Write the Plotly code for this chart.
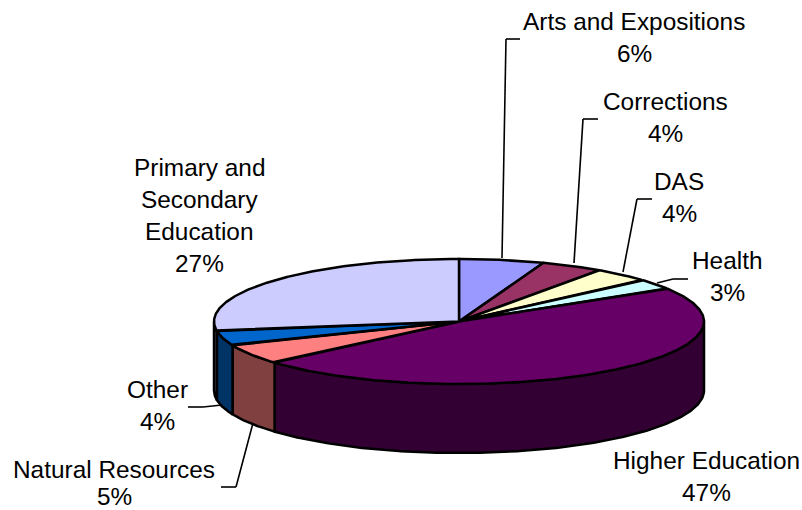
import math
import plotly.graph_objects as go

categories = ["Arts and Expositions", "Corrections", "DAS", "Health", "Higher Education",
              "Natural Resources", "Other", "Primary and Secondary Education"]
values = [5.6, 4.1, 3.7, 2.7, 47.4, 5.2, 3.8, 27.4]
top_colors = ["#9999FF", "#993366", "#FFFFCC", "#CCFFFF", "#660066", "#FF8080", "#0066CC", "#CCCCFF"]
side_colors = ["#4D4D80", "#4D1A33", "#808066", "#668080", "#330033", "#804040", "#003366", "#666680"]

# label layout: wrapped name lines, centre x, first line y, line step
label_lines = [["Arts and Expositions"], ["Corrections"], ["DAS"], ["Health"], ["Higher Education"],
               ["Natural Resources"], ["Other"], ["Primary and", "Secondary", "Education"]]
label_x = [634, 665, 679, 727, 706, 114, 157, 199]
label_y = [21, 101, 181, 260, 460, 469, 389, 167]
label_step = [32, 32, 32, 32, 32, 27, 32, 32]
leaders = [[(502, 258), (506, 39), (520, 39)],
           [(574, 263), (583, 119), (598, 119)],
           [(623, 272), (637, 199), (652, 199)],
           [(657, 283), (673, 279), (688, 279)],
           [],
           [(253, 423), (236, 487), (221, 487)],
           [(222, 405), (203, 407), (188, 407)],
           []]

CX, CY, RX, RY, DEPTH = 459, 321.5, 245, 62.5, 69
FONT = dict(family="Liberation Sans", size=24.4, color="#000000")


def arc(a0, a1, dy=0):
    n = max(2, int(abs(a1 - a0) * 2) + 1)
    xs, ys = [], []
    for i in range(n):
        a = math.radians(a0 + (a1 - a0) * i / (n - 1))
        xs.append(CX + RX * math.sin(a))
        ys.append(CY - RY * math.cos(a) + dy)
    return xs, ys


total = sum(values)
angles = [0]
for v in values:
    angles.append(angles[-1] + 360 * v / total)

fig = go.Figure()
LW = dict(color="#000000", width=2.5)

# side walls on the front half
for i, c in enumerate(categories):
    a0, a1 = max(angles[i], 90), min(angles[i + 1], 270)
    if a1 <= a0:
        continue
    xt, yt = arc(a0, a1)
    xb, yb = arc(a1, a0, DEPTH)
    fig.add_trace(go.Scatter(x=xt + xb + xt[:1], y=yt + yb + yt[:1], mode="lines", fill="toself",
                             fillcolor=side_colors[i], line=LW, name=c, hoverinfo="name", showlegend=False))
# top faces
for i, c in enumerate(categories):
    xt, yt = arc(angles[i], angles[i + 1])
    fig.add_trace(go.Scatter(x=[CX] + xt + [CX], y=[CY] + yt + [CY], mode="lines", fill="toself",
                             fillcolor=top_colors[i], line=LW, name=c, hoverinfo="name", showlegend=False))

annotations, shapes = [], []
for i, c in enumerate(categories):
    lines = label_lines[i] + [f"{round(values[i] / total * 100)}%"]
    for j, t in enumerate(lines):
        annotations.append(dict(x=label_x[i], y=label_y[i] + j * label_step[i], text=t, showarrow=False,
                                xref="x", yref="y", xanchor="center", yanchor="middle", font=FONT))
    pts = leaders[i]
    for p, q in zip(pts, pts[1:]):
        shapes.append(dict(type="line", x0=p[0], y0=p[1], x1=q[0], y1=q[1], xref="x", yref="y",
                           line=dict(color="#000000", width=1.6)))

fig.update_layout(width=802, height=510, margin=dict(l=0, r=0, t=0, b=0),
                  paper_bgcolor="#FFFFFF", plot_bgcolor="#FFFFFF", showlegend=False,
                  xaxis=dict(range=[0, 802], visible=False, fixedrange=True),
                  yaxis=dict(range=[510, 0], visible=False, fixedrange=True),
                  annotations=annotations, shapes=shapes)
fig.write_html("out.html", post_script="document.body.style.margin='0';",
               config=dict(displayModeBar=False))
